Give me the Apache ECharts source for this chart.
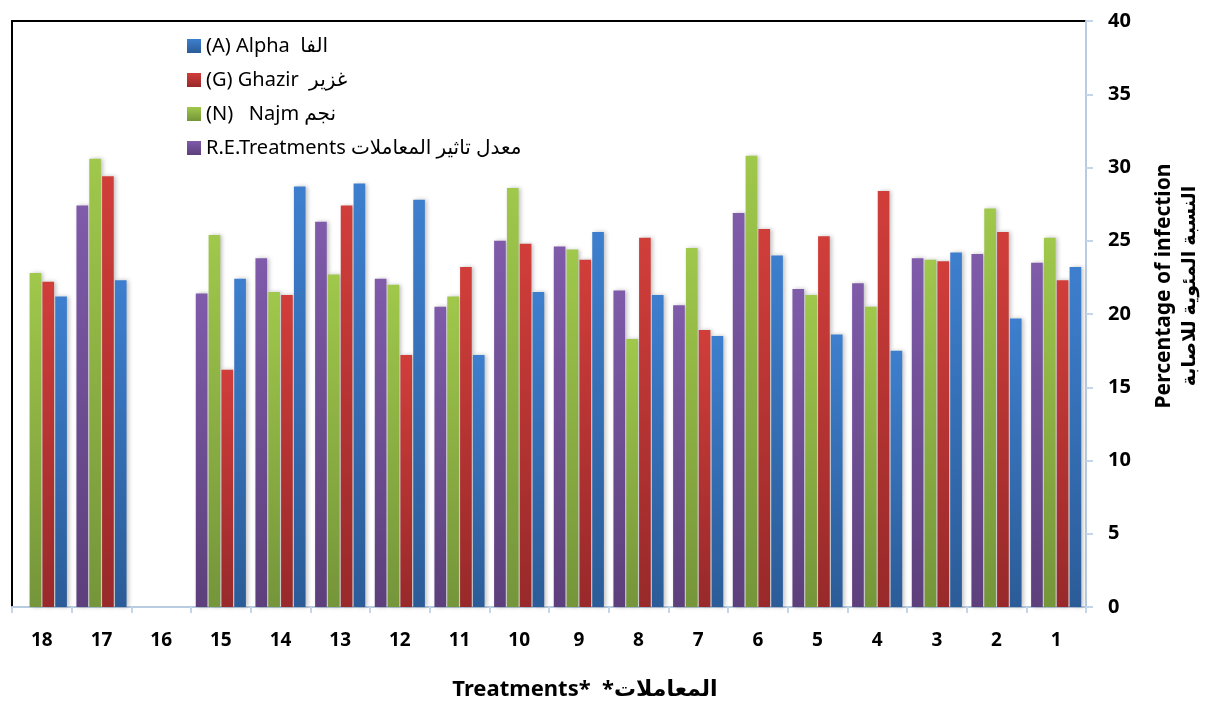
<!DOCTYPE html>
<html><head><meta charset="utf-8">
<script src="https://cdn.jsdelivr.net/npm/echarts@6/dist/echarts.min.js"></script>
<style>html,body{margin:0;padding:0;background:#fff}#c{width:1208px;height:702px}</style>
</head><body><div id="c"></div>
<script>
const categories = ['18','17','16','15','14','13','12','11','10','9','8','7','6','5','4','3','2','1'];
const reTreatments = [null,27.4,null,21.4,23.8,26.3,22.4,20.5,25.0,24.6,21.6,20.6,26.9,21.7,22.1,23.8,24.1,23.5];
const najm   = [22.8,30.6,null,25.4,21.5,22.7,22.0,21.2,28.6,24.4,18.3,24.5,30.8,21.3,20.5,23.7,27.2,25.2];
const ghazir = [22.2,29.4,null,16.2,21.3,27.4,17.2,23.2,24.8,23.7,25.2,18.9,25.8,25.3,28.4,23.6,25.6,22.3];
const alpha  = [21.2,22.3,null,22.4,28.7,28.9,27.8,17.2,21.5,25.6,21.3,18.5,24.0,18.6,17.5,24.2,19.7,23.2];
const yTicks = [0,5,10,15,20,25,30,35,40];

const FONT = '"Noto Sans","DejaVu Sans",sans-serif';
function grad(top, bottom){
  return new echarts.graphic.LinearGradient(0,0,0,1,[{offset:0,color:top},{offset:1,color:bottom}]);
}
const names = {
  A: '(A) Alpha  الفا',
  G: '(G) Ghazir  غزير',
  N: '(N)   Najm نجم',
  R: 'R.E.Treatments معدل تاثير المعاملات'
};
function bar(name, data, top, bottom){
  return {
    name, type:'bar', data,
    barGap:'10%', barCategoryGap:'16%',
    itemStyle:{color:grad(top,bottom), shadowBlur:4, shadowColor:'rgba(0,0,0,0.25)', shadowOffsetX:2, shadowOffsetY:0},
    emphasis:{disabled:true}
  };
}
const chart = echarts.init(document.getElementById('c'));
chart.setOption({
  animation:false,
  backgroundColor:'#fff',
  grid:{left:12, right:122, top:21, bottom:95, containLabel:false, outerBoundsMode:'none',
        show:true, borderColor:'#000', borderWidth:2, backgroundColor:'transparent'},
  legend:{
    orient:'vertical', left:182, top:29, itemWidth:14, itemHeight:14, itemGap:10,
    icon:'rect',
    data:[names.A, names.G, names.N, names.R],
    textStyle:{fontFamily:FONT, fontSize:20, color:'#000', lineHeight:24}
  },
  xAxis:{
    type:'category', data:categories,
    axisLine:{lineStyle:{color:'#B9CBE0', width:2}},
    axisTick:{show:true, length:6, lineStyle:{color:'#C6D6EA', width:2}},
    axisLabel:{fontFamily:FONT, fontWeight:'bold', fontSize:19, color:'#000', margin:24},
    name:'Treatments*  *المعاملات', nameLocation:'middle', nameGap:72,
    nameTextStyle:{fontFamily:FONT, fontWeight:'bold', fontSize:22, color:'#000', padding:[0,0,0,72]}
  },
  yAxis:{
    type:'value', position:'right', min:0, max:40, interval:5,
    splitLine:{show:false},
    axisLine:{show:true, lineStyle:{color:'#B9CBE0', width:2}},
    axisTick:{show:true, length:7, lineStyle:{color:'#C6D6EA', width:2}},
    axisLabel:{fontFamily:FONT, fontWeight:'bold', fontSize:20, color:'#000', margin:22,
      formatter:function(v){return yTicks.indexOf(v)>=0?String(v):'';}},
    name:'{a|Percentage of infection}\n{b|النسبة المئوية للاصابة}', nameLocation:'middle', nameRotate:90, nameGap:66,
    nameTextStyle:{fontFamily:FONT, color:'#000', lineHeight:25, padding:[0,0,0,56],
      rich:{a:{fontFamily:FONT, fontWeight:'bold', fontSize:21, color:'#000', lineHeight:25},
            b:{fontFamily:FONT, fontWeight:'bold', fontSize:19, color:'#000', lineHeight:25}}}
  },
  series:[
    bar(names.R, reTreatments, '#7F5BAA', '#5C3F7B'),
    bar(names.N, najm, '#A0C84B', '#75953A'),
    bar(names.G, ghazir, '#D13E3A', '#98292A'),
    bar(names.A, alpha, '#3D7FCE', '#2B5C98')
  ]
});
</script></body></html>
